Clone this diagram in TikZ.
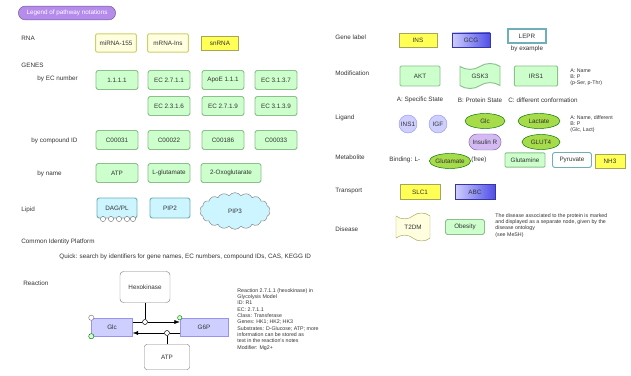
\documentclass[tikz,border=0pt]{standalone}
\usepackage{fontspec}
\setmainfont{Liberation Sans}
\usetikzlibrary{arrows.meta,positioning,shapes.geometric,shapes.symbols,shapes.misc}
\definecolor{ProtGreen}{HTML}{CCFFCC}
\definecolor{ProtEdge}{HTML}{8CBF8C}
\definecolor{RnaFill}{HTML}{FFFFE0}
\definecolor{RnaEdge}{HTML}{CFCF6A}
\definecolor{Lemon}{HTML}{FFFF55}
\definecolor{Aqua}{HTML}{CCF5FF}
\definecolor{AquaEdge}{HTML}{6FAFB5}
\definecolor{Lilac}{HTML}{B58CEB}
\definecolor{Lavender}{HTML}{CFCFFF}
\definecolor{Indigo}{HTML}{4F4FE8}
\definecolor{Lime}{HTML}{A6DB4A}
\definecolor{Ink}{HTML}{333333}

\begin{document}
\begin{tikzpicture}[x=0.03cm,y=-0.03cm,font=\fontsize{5.4}{6.4}\selectfont,text=Ink,
    lbl/.style={anchor=west,inner sep=1pt},
    note/.style={anchor=north west,align=left,inner sep=1pt,font=\fontsize{4.5}{5.4}\selectfont},
    rnabox/.style={draw=RnaEdge,thick,fill=RnaFill,rounded corners=1pt,
                   minimum width=1.22cm,minimum height=0.55cm},
    prot/.style={draw=ProtEdge,thick,fill=ProtGreen,rounded corners=2pt,
                 minimum width=1.26cm,minimum height=0.57cm},
    aquabox/.style={draw=AquaEdge,thick,fill=Aqua,rounded corners=2pt,
                 minimum width=1.2cm,minimum height=0.6cm},
    yelbox/.style={draw=RnaEdge!80!black,fill=Lemon,minimum width=1.15cm,minimum height=0.43cm},
    bluebox/.style={draw=Indigo!70!black,left color=Lavender,right color=Indigo,
                 minimum width=1.15cm,minimum height=0.43cm},
    blob/.style={ellipse,draw=green!45!black,fill=Lime,minimum width=1.2cm,minimum height=0.45cm,inner sep=0pt},
    pnode/.style={circle,draw,fill=white,minimum size=0.15cm,inner sep=0pt},
    bead/.style={draw=gray,fill=white}]
  \useasboundingbox (0,0) rectangle (631,376);

  % title
  \node[rounded rectangle,draw=Lilac!60!black,fill=Lilac,text=white,
        minimum width=3.15cm,minimum height=0.36cm] (title) at (67,13) {Legend of pathway notations};

  % left side labels
  \node[lbl] (rnaL) at (20,38) {RNA};
  \node[lbl] (geneL) at (20,65) {GENES};
  \node[lbl] (ecL) at (36,79) {by EC number};
  \node[lbl] (cpdL) at (30,141) {by compound ID};
  \node[lbl] (nameL) at (36,174) {by name};
  \node[lbl] (lipL) at (20,210) {Lipid};
  \node[lbl] (cipL) at (20,242) {Common Identity Platform};
  \node[lbl] (quick) at (58,257) {Quick: search by identifiers for gene names, EC numbers, compound IDs, CAS, KEGG ID};
  \node[lbl] (rxnL) at (22,283) {Reaction};

  % RNA
  \node[rnabox] (rna1) at (116,43) {miRNA-155};
  \node[rnabox] (rna2) at (168,43) {mRNA-Ins};
  \node[yelbox,minimum width=1.1cm,minimum height=0.42cm] (rna3) at (220,43) {snRNA};

  % genes by EC number
  \node[prot] (ec1) at (117,80) {1.1.1.1};
  \node[prot] (ec2) at (169,80) {EC 2.7.1.1};
  \node[prot] (ec3) at (223,80) {ApoE 1.1.1};
  \node[prot] (ec4) at (276,80) {EC 3.1.3.7};
  \node[prot] (ec5) at (169,106) {EC 2.3.1.6};
  \node[prot] (ec6) at (223,106) {EC 2.7.1.9};
  \node[prot] (ec7) at (276,106) {EC 3.1.3.9};

  % by compound ID
  \node[prot] (cpd1) at (117,140) {C00031};
  \node[prot] (cpd2) at (169,140) {C00022};
  \node[prot] (cpd3) at (223,140) {C00186};
  \node[prot] (cpd4) at (276,140) {C00033};

  % by name
  \node[prot] (nm1) at (117,173) {ATP};
  \node[prot] (nm2) at (169,173) {L-glutamate};
  \node[prot,minimum width=1.8cm] (nm3) at (231,173) {2-Oxoglutarate};

  % lipid
  \node[aquabox] (lip1) at (117,208) {DAG/PL};
  \foreach \bx in {103,111,119,127,133}
    \draw[bead] (\bx,219) circle (2.6);
  \node[aquabox] (lip2) at (170,208) {PIP2};
  \node[cloud,cloud puffs=18,cloud puff arc=110,aspect=1.8,draw=gray,fill=Aqua,
        minimum width=2.1cm,minimum height=1.1cm] (lip3) at (235,211) {PIP3};

  % reaction
  \node[rectangle,rounded corners=3pt,draw=gray,fill=white,minimum width=1.5cm,
        minimum height=0.93cm] (enz) at (145,287) {Hexokinase};
  \node[rectangle,draw=Indigo!60,fill=Lavender,minimum width=1.23cm,minimum height=0.54cm] (sub) at (112,327) {Glc};
  \node[rectangle,draw=Indigo!60,fill=Lavender,minimum width=1.44cm,minimum height=0.54cm] (prod) at (204,327) {G6P};
  \node[rectangle,rounded corners=2pt,draw=gray,minimum width=1.35cm,minimum height=0.75cm] (cof) at (167,357) {ATP};
  \node[pnode] (p1) at (145,322) {};
  \node[pnode] (p2) at (167,333) {};
  \draw[bead] (sub.north west) circle (2.6);
  \draw[draw=green!50!black,fill=green!15] (sub.south west) circle (2.6);
  \draw[draw=green!50!black,fill=green!15] (prod.north west) circle (2.2);
  \draw (sub.east |- p1) -- (p1);
  \draw[-{Latex[length=1.6mm]}] (p1) -- (prod.west |- p1);
  \draw (prod.west |- p2) -- (p2);
  \draw[-{Latex[length=1.6mm]}] (p2) -- (sub.east |- p2);
  \draw (enz) -- (p1);
  \draw (cof) -- (p2);
  \node[note] (rxnNote) at (236,287) {Reaction 2.7.1.1 (hexokinase) in\\
    Glycolysis Model\\ ID: R1\\ EC: 2.7.1.1\\ Class: Transferase\\ Genes: HK1; HK2; HK3\\
    Substrates: D-Glucose; ATP; more\\ information can be stored as\\
    text in the reaction's notes\\ Modifier: Mg2+};

  % right side labels
  \node[lbl] (glL) at (334,37) {Gene label};
  \node[lbl] (modL) at (334,73) {Modification};
  \node[lbl] (ligL) at (334,118) {Ligand};
  \node[lbl] (metL) at (334,157) {Metabolite};
  \node[lbl] (trL) at (334,191) {Transport};
  \node[lbl] (disL) at (334,229) {Disease};

  % gene label
  \node[yelbox] (gl1) at (418,40) {INS};
  \node[bluebox] (gl2) at (471,40) {GCG};
  \node[draw=AquaEdge,line width=1.2pt,fill=white,minimum width=1.15cm,minimum height=0.42cm] (gl3) at (527,36) {LEPR};
  \node[below=0.5pt of gl3,inner sep=1pt] (gl3L) {by example};

  % modification
  \node[prot,minimum width=1.2cm,minimum height=0.6cm,rounded corners=1pt] (md1) at (420,76) {AKT};
  \node[tape,draw=ProtEdge,thick,fill=ProtGreen,minimum width=1.2cm,minimum height=0.75cm,
        tape bend top=in and out,tape bend bottom=in and out] (md2) at (480,76) {GSK3};
  \node[prot,minimum width=1.3cm,minimum height=0.6cm,rounded corners=1pt] (md3) at (536,76) {IRS1};
  \node[inner sep=1pt] (md1L) at (420,100) {A: Specific State};
  \node[inner sep=1pt] (md2L) at (480,100) {B: Protein State};
  \node[inner sep=1pt] (md3L) at (543,100) {C: different conformation};
  \node[note] (mdNote) at (569,67) {A: Name\\ B: P\\ (p-Ser, p-Thr)};

  % ligand
  \node[circle,draw=Indigo!60,fill=Lavender,minimum size=0.54cm,inner sep=0pt] (lg1) at (408,124) {INS1};
  \node[circle,draw=Indigo!60,fill=Lavender,minimum size=0.54cm,inner sep=0pt] (lg2) at (438,124) {IGF};
  \node[blob] (lg3) at (485,121) {Glc};
  \node[blob,minimum width=1.26cm] (lg4) at (539,121) {Lactate};
  \node[rounded rectangle,draw=Lilac!70!black,fill=Lilac!60,minimum width=1.2cm,minimum height=0.48cm] (lg5) at (485,142) {Insulin R};
  \node[blob,minimum width=1.14cm] (lg6) at (541,142) {GLUT4};
  \node[note] (lgNote) at (569,114) {A: Name, different\\ B: P\\ (Glc, Lact)};

  % metabolite
  \node[lbl] (mt0) at (388,160) {Binding: L-};
  \node[blob] (mt1) at (450,161) {Glutamate};
  \node[lbl] (mt2) at (470,160) {(free)};
  \node[prot,minimum width=1.2cm,minimum height=0.43cm,rounded corners=1pt] (mt3) at (525,160) {Glutamine};
  \node[aquabox,minimum width=1.17cm,minimum height=0.45cm,fill=white] (mt4) at (572,160) {Pyruvate};
  \node[yelbox,minimum width=0.9cm] (mt5) at (610,161) {NH3};

  % transport
  \node[yelbox,minimum width=1.2cm,minimum height=0.45cm] (tr1) at (420,192) {SLC1};
  \node[bluebox,minimum width=1.2cm,minimum height=0.45cm] (tr2) at (475,192) {ABC};

  % disease
  \node[tape,draw=RnaEdge!80!black,fill=RnaFill,minimum width=1.02cm,minimum height=0.84cm,
        tape bend top=in and out,tape bend bottom=out and in] (ds1) at (413,227) {T2DM};
  \node[prot,minimum width=1.17cm,minimum height=0.45cm] (ds2) at (465,227) {Obesity};
  \node[note] (dsNote) at (494,212) {The disease associated to the protein is marked\\
    and displayed as a separate node, given by the\\ disease ontology\\ (see MeSH)};
\end{tikzpicture}
\end{document}
